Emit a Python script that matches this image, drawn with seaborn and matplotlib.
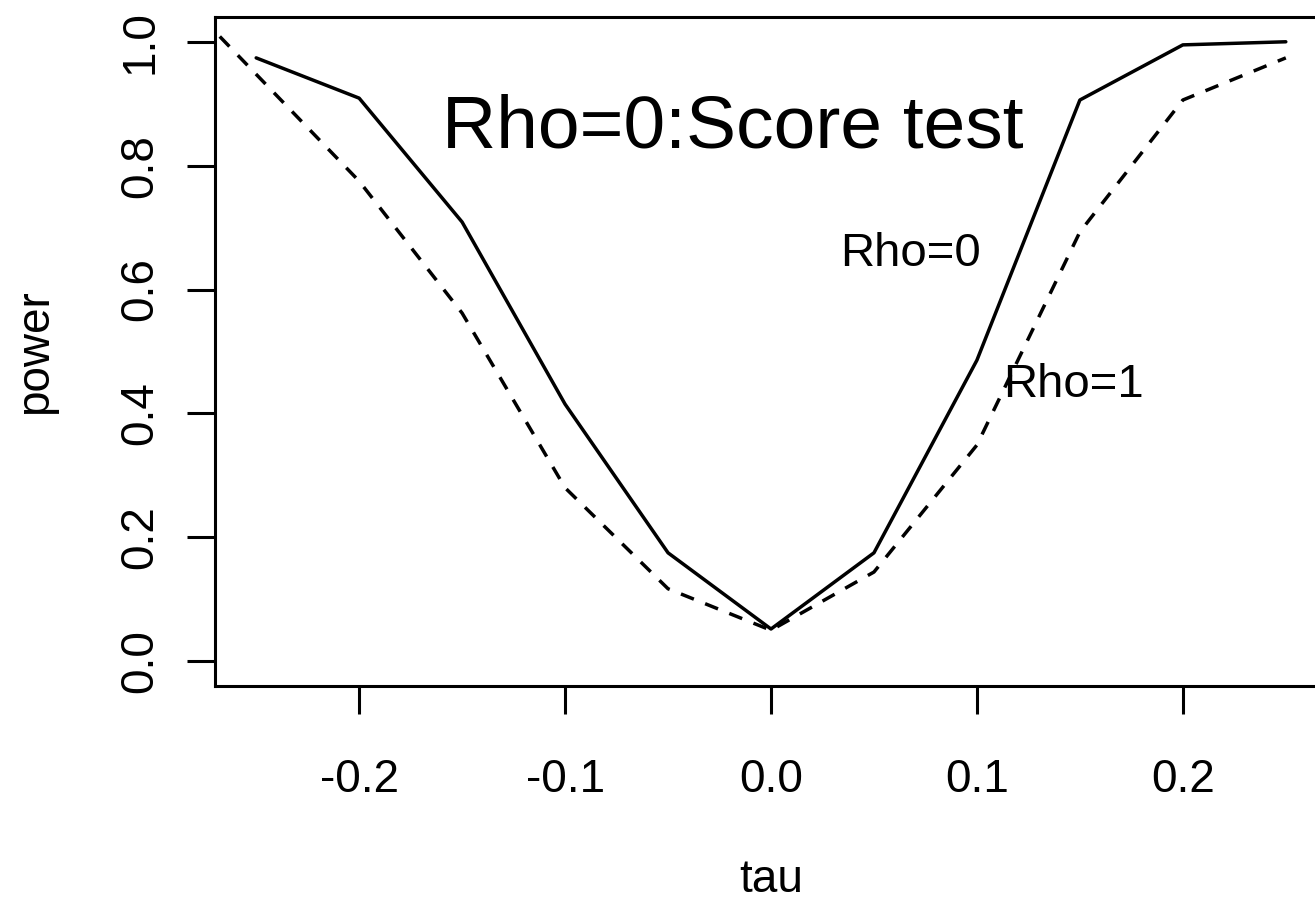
import matplotlib
matplotlib.use("Agg")
import matplotlib.pyplot as plt
import seaborn as sns
import pandas as pd

# valores (poder do teste score)
tau_rho0 = [-0.25, -0.2, -0.15, -0.1, -0.05, 0.0, 0.05, 0.1, 0.15, 0.2, 0.25]
power_rho0 = [0.974, 0.909, 0.709, 0.415, 0.175, 0.052, 0.175, 0.486, 0.906, 0.995, 1.0]

# a curva tracejada sai pela borda esquerda do grafico
tau_rho1 = [-0.3, -0.2, -0.15, -0.1, -0.05, 0.0, 0.05, 0.1, 0.15, 0.2, 0.25]
power_rho1 = [1.12, 0.775, 0.562, 0.28, 0.117, 0.05, 0.144, 0.349, 0.693, 0.906, 0.974]

xticks = [-0.2, -0.1, 0.0, 0.1, 0.2]
yticks = [0.0, 0.2, 0.4, 0.6, 0.8, 1.0]

df0 = pd.DataFrame({"tau": tau_rho0, "power": power_rho0})
df1 = pd.DataFrame({"tau": tau_rho1, "power": power_rho1})

sns.set_style("white")
plt.rcParams["font.family"] = ["Liberation Sans", "DejaVu Sans"]
plt.rcParams["text.color"] = "black"
plt.rcParams["axes.labelcolor"] = "black"

W, H = 1315, 910
fig = plt.figure(figsize=(W / 100, H / 100), dpi=100)
left, right, top, bottom = 215, 1327, 17, 686
ax = fig.add_axes([left / W, (H - bottom) / H, (right - left) / W, (bottom - top) / H])

sns.lineplot(data=df0, x="tau", y="power", ax=ax, color="black", lw=2.5, sort=False)
sns.lineplot(data=df1, x="tau", y="power", ax=ax, color="black", lw=2.5, sort=False,
             linestyle=(0, (4, 3.5)))

ax.set_xlim(-0.27, 0.27)
ax.set_ylim(-0.04, 1.04)
ax.set_xticks(xticks)
ax.set_xticklabels([f"{t:.1f}" for t in xticks])
ax.set_yticks(yticks)
ax.set_yticklabels([f"{t:.1f}" for t in yticks], rotation=90, va="center")

for s in ax.spines.values():
    s.set_linewidth(2.2)
    s.set_color("black")
ax.tick_params(axis="both", direction="out", length=20, width=2.2, labelsize=33,
               colors="black", left=True, bottom=True)
ax.tick_params(axis="x", pad=32)
ax.tick_params(axis="y", pad=18)

ax.set_xlabel("tau", fontsize=33)
ax.set_ylabel("power", fontsize=33)
ax.xaxis.set_label_coords(0.5, -0.29)
ax.yaxis.set_label_coords(-0.162, 0.5)
ax.xaxis.label.set_va("center")
ax.yaxis.label.set_va("center")

ax.text(-0.0185, 0.861, "Rho=0:Score test", fontsize=54, ha="center", va="center")
ax.text(0.0675, 0.657, "Rho=0", fontsize=34, ha="center", va="center")
ax.text(0.147, 0.446, "Rho=1", fontsize=34, ha="center", va="center")

fig.savefig("out.png", dpi=100)
